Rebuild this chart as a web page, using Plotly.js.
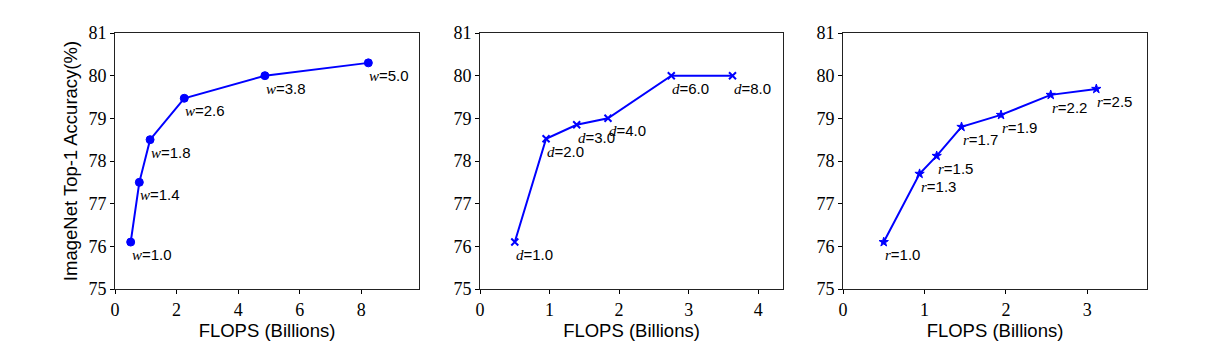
<!DOCTYPE html>
<html>
<head>
<meta charset="utf-8">
<script src="https://cdn.plot.ly/plotly-3.0.1.min.js"></script>
<style>html,body{margin:0;padding:0;background:#fff;}#chart{width:1210px;height:358px;}</style>
</head>
<body>
<div id="chart"></div>
<script>
// Panel 1: width scaling
var widthFlops = [0.51, 0.79, 1.14, 2.25, 4.87, 8.23];
var widthAcc   = [76.1, 77.5, 78.5, 79.47, 80.0, 80.3];
var widthLabels = ["1.0", "1.4", "1.8", "2.6", "3.8", "5.0"];
// Panel 2: depth scaling
var depthFlops = [0.50, 0.95, 1.39, 1.84, 2.75, 3.63];
var depthAcc   = [76.1, 78.52, 78.85, 79.0, 80.0, 80.0];
var depthLabels = ["1.0", "2.0", "3.0", "4.0", "6.0", "8.0"];
// Panel 3: resolution scaling
var resFlops = [0.50, 0.94, 1.15, 1.455, 1.94, 2.55, 3.11];
var resAcc   = [76.1, 77.7, 78.12, 78.8, 79.08, 79.55, 79.69];
var resLabels = ["1.0", "1.3", "1.5", "1.7", "1.9", "2.2", "2.5"];

var yTicks = [75, 76, 77, 78, 79, 80, 81];
var xTicks1 = [0, 2, 4, 6, 8];
var xTicks2 = [0, 1, 2, 3, 4];
var xTicks3 = [0, 1, 2, 3];
var xTitle = "FLOPS (Billions)";
var yTitle = "ImageNet Top-1 Accuracy(%)";

var blue = "#0000ff";
var W = 1210, H = 358;
var yDom = [(H - 289) / H, (H - 33) / H];
var xDoms = [[115 / W, 419 / W], [480 / W, 783 / W], [843 / W, 1147 / W]];

var panels = [
  {x: widthFlops, y: widthAcc, lab: widthLabels, v: "w", sym: "circle", size: 8, lw: 1, ticks: xTicks1},
  {x: depthFlops, y: depthAcc, lab: depthLabels, v: "d", sym: "x-thin-open", size: 7, lw: 2, ticks: xTicks2},
  {x: resFlops, y: resAcc, lab: resLabels, v: "r", sym: "star", size: 7, lw: 1, ticks: xTicks3}
];

var traces = [], annotations = [];
var layout = {
  width: W, height: H,
  margin: {l: 0, r: 0, t: 0, b: 0},
  paper_bgcolor: "#fff", plot_bgcolor: "#fff",
  showlegend: false,
  font: {family: "Liberation Sans, Arial, sans-serif", color: "#000"}
};

panels.forEach(function (p, i) {
  var n = i === 0 ? "" : String(i + 1);
  var xa = "x" + n, ya = "y" + n;
  traces.push({
    type: "scatter", mode: "lines+markers",
    x: p.x, y: p.y, xaxis: xa, yaxis: ya,
    line: {color: blue, width: 2},
    marker: {color: blue, symbol: p.sym, size: p.size, line: {color: blue, width: p.lw}},
    cliponaxis: false, hoverinfo: "skip"
  });
  var xmax = Math.max.apply(null, p.x) * 1.2;
  layout["xaxis" + n] = {
    domain: xDoms[i], anchor: ya, range: [0, xmax],
    tickvals: p.ticks, ticktext: p.ticks.map(String),
    ticks: "outside", ticklen: 4, tickwidth: 1, tickcolor: "#000",
    showline: true, linecolor: "#222", linewidth: 1, mirror: true,
    showgrid: false, zeroline: false,
    tickfont: {family: "Liberation Serif, Times New Roman, serif", size: 18, color: "#000"},
    title: {text: xTitle, font: {family: "Liberation Sans, Arial, sans-serif", size: 18.5, color: "#000"}, standoff: 3}
  };
  layout["yaxis" + n] = {
    domain: yDom, anchor: xa, range: [75, 81],
    tickvals: yTicks, ticktext: yTicks.map(String),
    ticks: "outside", ticklen: 4, tickwidth: 1, tickcolor: "#000",
    showline: true, linecolor: "#222", linewidth: 1, mirror: true,
    showgrid: false, zeroline: false,
    tickfont: {family: "Liberation Serif, Times New Roman, serif", size: 18, color: "#000"},
    title: i === 0 ? {text: yTitle, font: {family: "Liberation Sans, Arial, sans-serif", size: 18.5, color: "#000"}, standoff: 5} : {text: ""}
  };
  p.x.forEach(function (xv, k) {
    annotations.push({
      xref: xa, yref: ya, x: xv, y: p.y[k],
      text: '<span style="font-family:Liberation Serif;font-style:italic">' + p.v + '</span>=' + p.lab[k],
      showarrow: false, xanchor: "left", yanchor: "top", yshift: -2, xshift: -1,
      font: {family: "Liberation Sans, Arial, sans-serif", size: 15, color: "#000"}
    });
  });
});
layout.annotations = annotations;

Plotly.newPlot("chart", traces, layout, {displayModeBar: false, staticPlot: true});
</script>
</body>
</html>
